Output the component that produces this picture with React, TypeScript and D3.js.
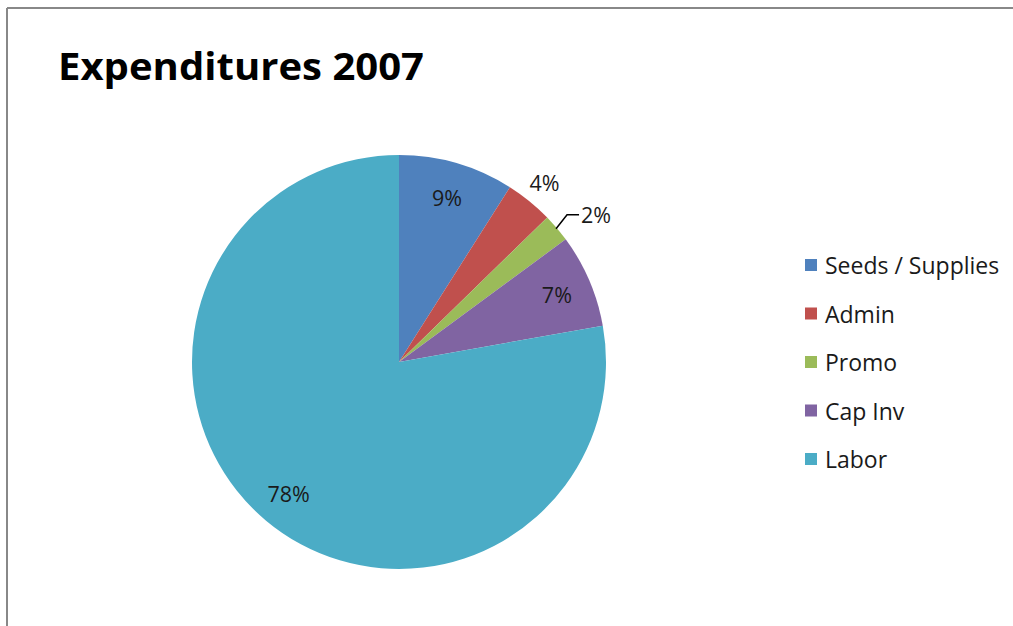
import React from "react";
import * as d3 from "d3";

const categories = ["Seeds / Supplies", "Admin", "Promo", "Cap Inv", "Labor"];
const values = [9.0, 3.7, 2.2, 7.3, 77.8];
const labels = ["9%", "4%", "2%", "7%", "78%"];
const colors = ["#4F81BD", "#C0504D", "#9BBB59", "#8064A2", "#4BACC6"];
const labelMode = ["inside", "outside", "leader", "inside", "inside"];

const W = 1013;
const H = 626;
const cx = 399;
const cy = 362;
const R = 207;
const FONT = "'Open Sans', Lato, sans-serif";

export default function App() {
  const pie = d3.pie<number>().sort(null).value((d) => d);
  const arcs = pie(values);
  const arc = d3.arc<d3.PieArcDatum<number>>().innerRadius(0).outerRadius(R);
  const pt = (a: number, r: number) => [r * Math.sin(a), -r * Math.cos(a)];

  return (
    <svg width={W} height={H} style={{ position: "absolute", left: 0, top: 0 }}>
      <rect x={0} y={0} width={W} height={H} fill="#fff" />
      <line x1={7} y1={8} x2={W} y2={8} stroke="#888" strokeWidth={2} />
      <line x1={7} y1={8} x2={7} y2={H} stroke="#888" strokeWidth={2} />
      <text x={58} y={80} fontFamily={FONT} fontWeight="bold" fontSize={38} fill="#000"
        textLength={366} lengthAdjust="spacingAndGlyphs">
        Expenditures 2007
      </text>
      <g transform={`translate(${cx},${cy})`}>
        {arcs.map((a, i) => (
          <path key={i} d={arc(a) || ""} fill={colors[i]} />
        ))}
        {arcs.map((a, i) => {
          const mid = (a.startAngle + a.endAngle) / 2;
          const mode = labelMode[i];
          if (mode === "inside") {
            const [x, y] = pt(mid, R * 0.83);
            return (
              <text key={i} x={x} y={y} textAnchor="middle" dominantBaseline="central" fontFamily={FONT} fontSize={21.5} fill="#1a1a1a">
                {labels[i]}
              </text>
            );
          }
          if (mode === "outside") {
            const [x, y] = pt(mid, R * 1.115);
            return (
              <text key={i} x={x} y={y} textAnchor="middle" dominantBaseline="central" fontFamily={FONT} fontSize={21.5} fill="#1a1a1a">
                {labels[i]}
              </text>
            );
          }
          const [x0, y0] = pt(mid, R * 0.995);
          const x1 = x0 + 11;
          const y1 = y0 - 14;
          const x2 = x1 + 12;
          return (
            <g key={i}>
              <polyline points={`${x0},${y0} ${x1},${y1} ${x2},${y1}`} fill="none" stroke="#000" strokeWidth={1.5} />
              <text x={x2 + 2} y={y1} dominantBaseline="central" fontFamily={FONT} fontSize={21.5} fill="#1a1a1a">
                {labels[i]}
              </text>
            </g>
          );
        })}
      </g>
      <g>
        {categories.map((c, i) => {
          const y = 265 + i * 48.5;
          return (
            <g key={c}>
              <rect x={805} y={y - 6} width={12} height={12} fill={colors[i]} />
              <text x={825} y={y} dominantBaseline="central" fontFamily={FONT} fontSize={23} fill="#1a1a1a">
                {c}
              </text>
            </g>
          );
        })}
      </g>
    </svg>
  );
}
